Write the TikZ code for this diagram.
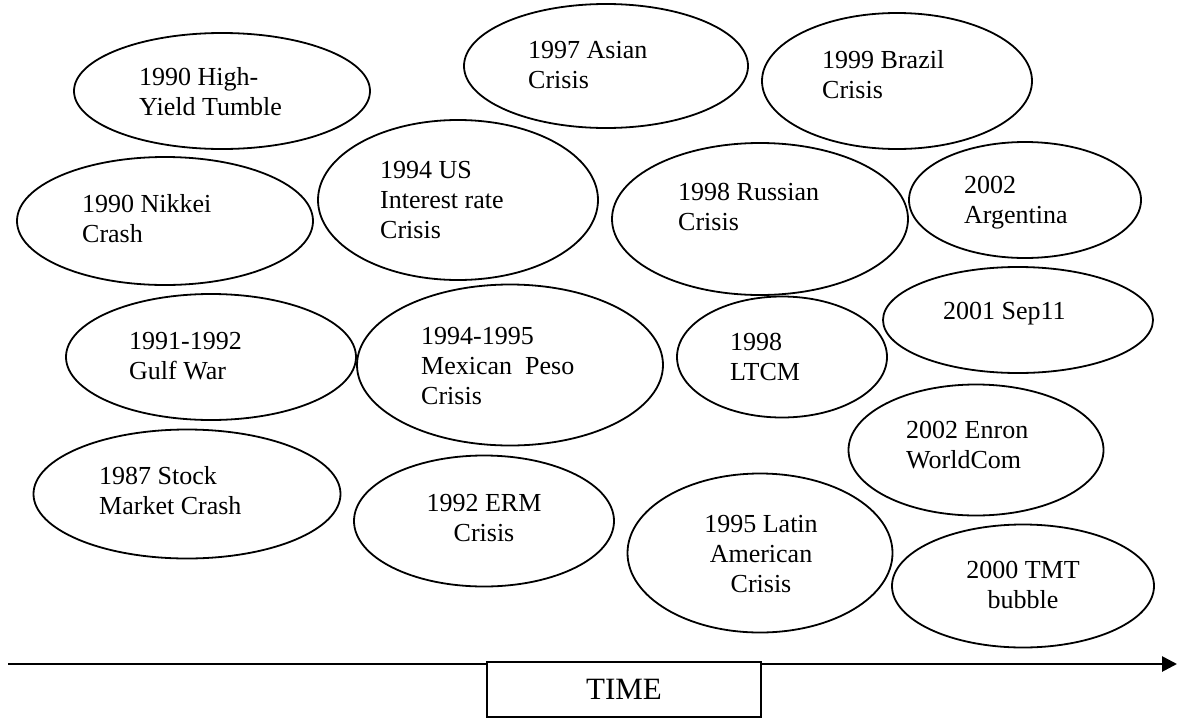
\documentclass[tikz,border=0pt]{standalone}
\usepackage{fontspec}
\setmainfont{Liberation Serif}
\usetikzlibrary{arrows.meta,shapes.geometric}
\tikzset{
  ev/.style={draw=black, line width=1.8pt, ellipse, inner sep=0pt},
  lbl/.style={inner sep=0pt, align=left, anchor=base west, font=\fontsize{26}{30}\selectfont},
  clbl/.style={inner sep=0pt, align=center, anchor=base, font=\fontsize{26}{30}\selectfont},
  timebox/.style={draw=black, fill=white, line width=1.6pt, minimum width=274pt, minimum height=55pt, inner sep=0pt, font=\fontsize{31}{34}\selectfont},
  axis/.style={line width=2.7pt, -{Triangle[length=15pt,width=15pt]}}
}
\begin{document}
\begin{tikzpicture}[x=1pt,y=1pt]
\useasboundingbox (0,0) rectangle (1189,-718);
% ellipses
\node[ev, minimum width=296pt, minimum height=116pt] (hy) at (222,-91) {};
\node[ev, minimum width=296pt, minimum height=128pt] (nk) at (165,-221) {};
\node[ev, minimum width=284pt, minimum height=124pt] (as) at (606,-66) {};
\node[ev, minimum width=280pt, minimum height=160pt] (us) at (458,-200) {};
\node[ev, minimum width=296pt, minimum height=152pt] (ru) at (760,-219) {};
\node[ev, minimum width=270pt, minimum height=136pt] (br) at (897,-81) {};
\node[ev, minimum width=232pt, minimum height=116pt] (ar) at (1025,-200) {};
\node[ev, minimum width=290pt, minimum height=126pt] (gw) at (211,-357) {};
\node[ev, minimum width=306pt, minimum height=161pt] (mx) at (510,-365) {};
\node[ev, minimum width=210pt, minimum height=121pt] (lt) at (782,-357) {};
\node[ev, minimum width=270pt, minimum height=106pt] (sp) at (1018,-320) {};
\node[ev, minimum width=255pt, minimum height=131pt] (en) at (976,-450) {};
\node[ev, minimum width=307pt, minimum height=129pt] (st) at (187,-494) {};
\node[ev, minimum width=260pt, minimum height=131pt] (erm) at (484,-521) {};
\node[ev, minimum width=265pt, minimum height=159pt] (la) at (760,-553) {};
\node[ev, minimum width=262pt, minimum height=123pt] (tmt) at (1023,-586) {};
% labels (anchored at the baseline of their last line)
\node[lbl] (thy) at (139,-115) {1990 High-\\Yield Tumble};
\node[lbl] (tnk) at (82,-242) {1990 Nikkei\\Crash};
\node[lbl] (tas) at (528,-88) {1997 Asian\\Crisis};
\node[lbl] (tus) at (380,-238) {1994 US\\Interest rate\\Crisis};
\node[lbl] (tru) at (678,-230) {1998 Russian\\Crisis};
\node[lbl] (tbr) at (822,-98) {1999 Brazil\\Crisis};
\node[lbl] (tar) at (964,-223) {2002\\Argentina};
\node[lbl] (tgw) at (129,-379) {1991-1992\\Gulf War};
\node[lbl] (tmx) at (421,-404) {1994-1995\\Mexican\ \ Peso\\Crisis};
\node[lbl] (tlt) at (730,-380) {1998\\LTCM};
\node[lbl] (tsp) at (943,-319) {2001 Sep11};
\node[lbl] (ten) at (906,-468) {2002 Enron\\WorldCom};
\node[lbl] (tst) at (99,-514) {1987 Stock\\Market Crash};
\node[clbl] (term) at (484,-541) {1992 ERM\\Crisis};
\node[clbl] (tla) at (761,-592) {1995 Latin\\American\\Crisis};
\node[clbl] (ttmt) at (1023,-608) {2000 TMT\\bubble};
% time axis
\coordinate (t0) at (8,-664);
\coordinate (t1) at (1177,-664);
\draw[axis] (t0) -- (t1);
\node[timebox] (time) at (624,-689.5) {TIME};
\end{tikzpicture}
\end{document}
